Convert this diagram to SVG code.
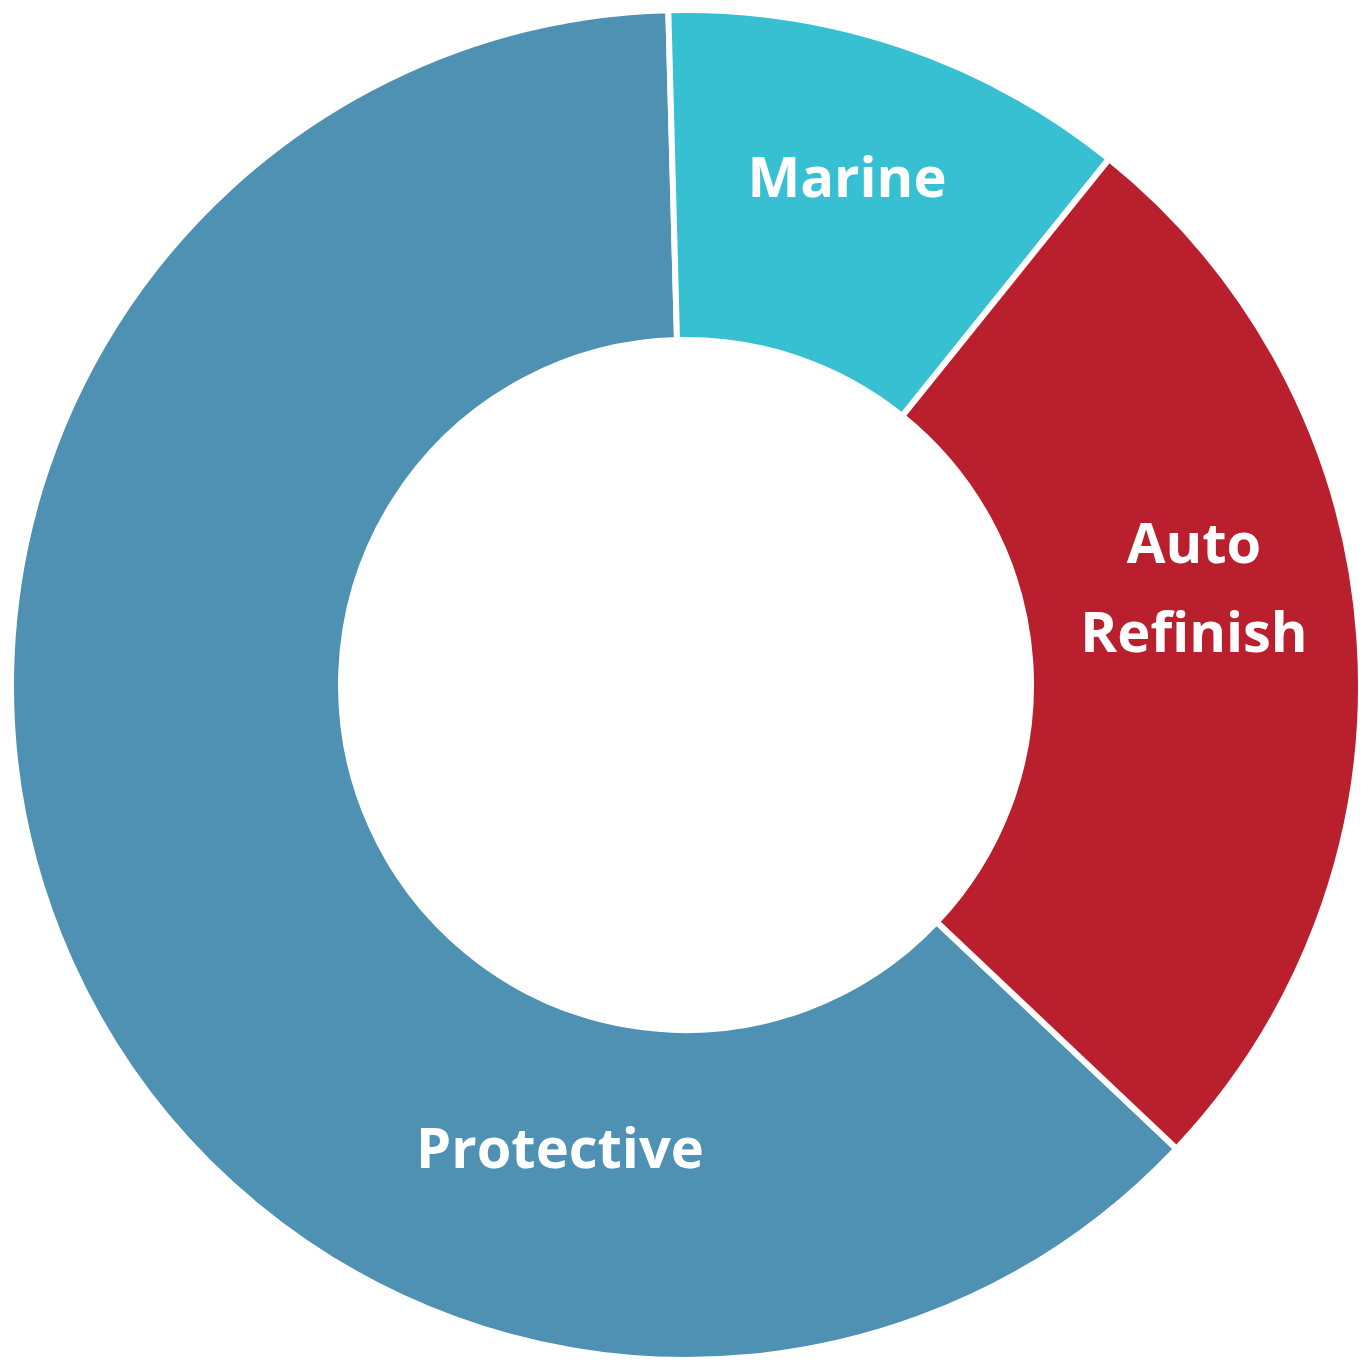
<svg xmlns="http://www.w3.org/2000/svg" width="1371" height="1370" viewBox="0 0 1371 1370">
<style>
.s{stroke:#fff;stroke-width:6;stroke-linejoin:miter}
.t{font-family:"Open Sans","Liberation Sans",sans-serif;font-weight:bold;font-size:56px;fill:#fff;text-anchor:middle}
</style>
<rect width="1371" height="1370" fill="#fff"/>
<g id="protective"><path class="s" fill="#4F91B3" d="M1176.5,1148.7 A675,675 0 1 1 668.3,10.2 L677,340.1 A345,345 0 1 0 936.7,922 Z"/><text class="t" x="560" y="1168">Protective</text></g>
<g id="marine"><path class="s" fill="#37C0D2" d="M668.3,10.2 A675,675 0 0 1 1109,159 L902.2,416.1 A345,345 0 0 0 677,340.1 Z"/><text class="t" x="847" y="197">Marine</text></g>
<g id="auto"><path class="s" fill="#BA1F2E" d="M1109,159 A675,675 0 0 1 1176.5,1148.7 L936.7,922 A345,345 0 0 0 902.2,416.1 Z"/><text class="t" x="1194" y="563">Auto</text><text class="t" x="1194" y="652">Refinish</text></g>
<g id="connectors"/>
</svg>
